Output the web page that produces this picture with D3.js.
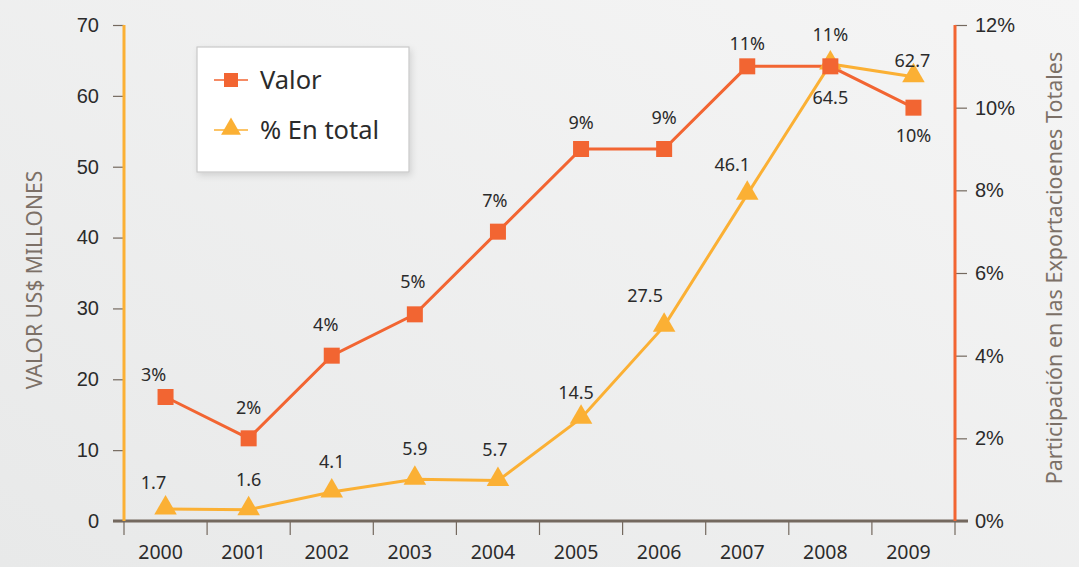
<!DOCTYPE html>
<html>
<head>
<meta charset="utf-8">
<script src="https://cdn.jsdelivr.net/npm/d3@7"></script>
<style>
  html, body { margin: 0; padding: 0; background: #eeeeee; }
  svg { display: block; font-family: "Noto Sans", "Open Sans", sans-serif; }
</style>
</head>
<body>
<svg id="chart" width="1079" height="567"></svg>
<script>
// Years on the category axis
const years = ["2000", "2001", "2002", "2003", "2004", "2005", "2006", "2007", "2008", "2009"];
// Share of total exports (%), right axis, orange squares
const shareValues = [3, 2, 4, 5, 7, 9, 9, 11, 11, 10];
const shareLabels = ["3%", "2%", "4%", "5%", "7%", "9%", "9%", "11%", "11%", "10%"];
// Value in US$ millions, left axis, yellow triangles
const valueValues = [1.7, 1.6, 4.1, 5.9, 5.7, 14.5, 27.5, 46.1, 64.5, 62.7];
const valueLabels = ["1.7", "1.6", "4.1", "5.9", "5.7", "14.5", "27.5", "46.1", "64.5", "62.7"];
// Axis ticks
const leftTicks = [0, 10, 20, 30, 40, 50, 60, 70];
const rightTicks = [0, 2, 4, 6, 8, 10, 12];
// Legend entries
const legendNames = ["Valor", "% En total"];

const orange = "#f26532";
const yellow = "#fbb034";
const axisGrey = "#74695f";
const textDark = "#2b2b2b";
const titleGrey = "#7c7067";

const svg = d3.select("#chart");
const W = 1079, H = 567;

// soft background gradient
const defs = svg.append("defs");
const bg = defs.append("linearGradient").attr("id", "bg")
  .attr("x1", "0").attr("y1", "1").attr("x2", "1").attr("y2", "0");
bg.append("stop").attr("offset", "0").attr("stop-color", "#e8e9e9");
bg.append("stop").attr("offset", "1").attr("stop-color", "#f5f5f5");
const shadow = defs.append("filter").attr("id", "shadow")
  .attr("x", "-10%").attr("y", "-10%").attr("width", "130%").attr("height", "130%");
shadow.append("feDropShadow").attr("dx", 2).attr("dy", 3).attr("stdDeviation", 3)
  .attr("flood-color", "#000").attr("flood-opacity", 0.12);

svg.append("rect").attr("width", W).attr("height", H).attr("fill", "url(#bg)");

const m = { left: 124, right: 955, top: 25, bottom: 521 };

const x = d3.scaleBand().domain(years).range([m.left, m.right]).paddingInner(0).paddingOuter(0);
const yL = d3.scaleLinear().domain([0, 70]).range([m.bottom, m.top]);
const yR = d3.scaleLinear().domain([0, 12]).range([m.bottom, m.top]);
const cx = d => x(d) + x.bandwidth() / 2;

// x axis with ticks at band edges
const xAxisG = svg.append("g").attr("transform", `translate(0,${m.bottom})`);
xAxisG.append("line").attr("x1", 113).attr("x2", 968).attr("y1", 0).attr("y2", 0)
  .attr("stroke", axisGrey).attr("stroke-width", 3);
const edges = years.map(d => x(d)).concat([m.right]);
xAxisG.selectAll("line.tk").data(edges).join("line").attr("class", "tk")
  .attr("x1", d => d).attr("x2", d => d).attr("y1", 0).attr("y2", 14)
  .attr("stroke", axisGrey).attr("stroke-width", 1.2);
xAxisG.selectAll("text").data(years).join("text")
  .attr("x", d => cx(d) - 5).attr("y", 38)
  .attr("text-anchor", "middle").attr("font-size", 19.5).attr("fill", textDark)
  .text(d => d);

// left axis
const yLAxis = d3.axisLeft(yL).tickValues(leftTicks).tickSize(11).tickPadding(14)
  .tickFormat(d3.format("d"));
const gL = svg.append("g").attr("transform", `translate(${m.left},0)`).call(yLAxis);
gL.select(".domain").remove();
gL.selectAll(".tick line").attr("stroke", axisGrey).attr("stroke-width", 1.2);
gL.selectAll(".tick text").attr("font-size", 20).attr("fill", textDark).attr("font-family", null);
svg.append("line").attr("x1", m.left).attr("x2", m.left).attr("y1", m.top).attr("y2", m.bottom)
  .attr("stroke", yellow).attr("stroke-width", 3);

// right axis
const yRAxis = d3.axisRight(yR).tickValues(rightTicks).tickSize(12).tickPadding(8)
  .tickFormat(d => d + "%");
const gR = svg.append("g").attr("transform", `translate(${m.right},0)`).call(yRAxis);
gR.select(".domain").remove();
gR.selectAll(".tick line").attr("stroke", axisGrey).attr("stroke-width", 1.2);
gR.selectAll(".tick text").attr("font-size", 20).attr("fill", textDark).attr("font-family", null);
svg.append("line").attr("x1", m.right).attr("x2", m.right).attr("y1", m.top).attr("y2", m.bottom)
  .attr("stroke", orange).attr("stroke-width", 3);

// axis titles
svg.append("text")
  .attr("transform", `translate(42,${(m.top + m.bottom) / 2 + 7}) rotate(-90)`)
  .attr("text-anchor", "middle").attr("font-size", 21).attr("fill", titleGrey)
  .text("VALOR US$ MILLONES");
svg.append("text")
  .attr("transform", `translate(1062,${(m.top + m.bottom) / 2 - 5}) rotate(-90)`)
  .attr("text-anchor", "middle").attr("font-size", 21.5).attr("fill", titleGrey)
  .text("Participación en las Exportacioenes Totales");

// series data joined with years
const share = years.map((d, i) => ({ year: d, v: shareValues[i], label: shareLabels[i] }));
const value = years.map((d, i) => ({ year: d, v: valueValues[i], label: valueLabels[i] }));

// lines
svg.append("path").datum(value)
  .attr("d", d3.line().x(d => cx(d.year)).y(d => yL(d.v)))
  .attr("fill", "none").attr("stroke", yellow).attr("stroke-width", 3);
svg.append("path").datum(share)
  .attr("d", d3.line().x(d => cx(d.year)).y(d => yR(d.v)))
  .attr("fill", "none").attr("stroke", orange).attr("stroke-width", 3);

// markers
const tri = d3.symbol().type(d3.symbolTriangle).size(220);
svg.selectAll("path.tri").data(value).join("path").attr("class", "tri")
  .attr("d", tri).attr("fill", yellow)
  .attr("transform", d => `translate(${cx(d.year)},${yL(d.v) - 1})`);
svg.selectAll("rect.sq").data(share).join("rect").attr("class", "sq")
  .attr("x", d => cx(d.year) - 8).attr("y", d => yR(d.v) - 8)
  .attr("width", 16).attr("height", 16).attr("fill", orange);

// label placement around each marker (dx, dy of text centre)
const shareNudge = [[-12, -22], [0, -31], [-6, -31], [-2, -33], [-3, -31], [0, -26], [0, -31], [0, -23], [0, -32], [0, 28]];
const valueNudge = [[-12, -26], [0, -30], [0, -30], [0, -30], [-3, -31], [-5, -26], [-19, -30], [-15, -30], [0, 34], [-1, -16]];

svg.selectAll("text.sl").data(share).join("text").attr("class", "sl")
  .attr("x", (d, i) => cx(d.year) + shareNudge[i][0])
  .attr("y", (d, i) => yR(d.v) + shareNudge[i][1])
  .attr("dy", "0.35em").attr("text-anchor", "middle")
  .attr("font-size", 18).attr("fill", textDark).text(d => d.label);
svg.selectAll("text.vl").data(value).join("text").attr("class", "vl")
  .attr("x", (d, i) => cx(d.year) + valueNudge[i][0])
  .attr("y", (d, i) => yL(d.v) + valueNudge[i][1])
  .attr("dy", "0.35em").attr("text-anchor", "middle")
  .attr("font-size", 18).attr("fill", textDark).text(d => d.label);

// legend
const lg = svg.append("g").attr("transform", "translate(197,47)");
lg.append("rect").attr("width", 212).attr("height", 125)
  .attr("fill", "#ffffff").attr("stroke", "#c9c9c9").attr("stroke-width", 1.2)
  .attr("filter", "url(#shadow)");
const items = lg.selectAll("g.item").data(legendNames).join("g").attr("class", "item")
  .attr("transform", (d, i) => `translate(0,${33 + i * 50})`);
items.append("line").attr("x1", 17).attr("x2", 51).attr("y1", 0).attr("y2", 0)
  .attr("stroke", (d, i) => i === 0 ? orange : yellow).attr("stroke-width", 1.5);
items.filter((d, i) => i === 0).append("rect")
  .attr("x", 27).attr("y", -7).attr("width", 14).attr("height", 14).attr("fill", orange);
items.filter((d, i) => i === 1).append("path")
  .attr("d", d3.symbol().type(d3.symbolTriangle).size(170)).attr("fill", yellow)
  .attr("transform", "translate(34,-1)");
items.append("text").attr("x", 63).attr("y", 0).attr("dy", "0.35em")
  .attr("font-size", 25.5).attr("fill", textDark).text(d => d);
</script>
</body>
</html>
